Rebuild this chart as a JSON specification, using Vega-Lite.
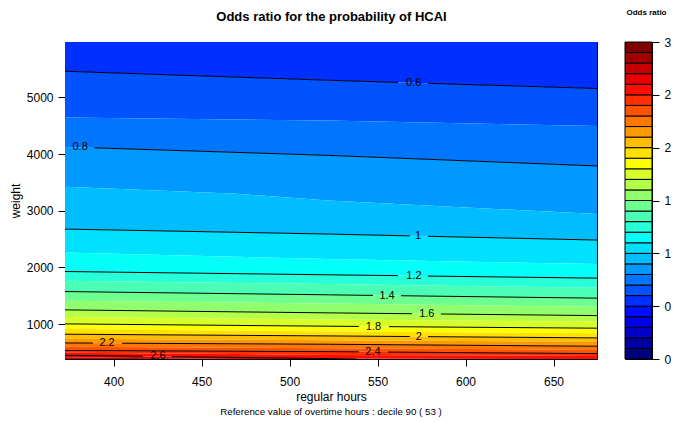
{
  "$schema": "https://vega.github.io/schema/vega-lite/v6.json",
  "padding": {"left": 8, "top": 8, "right": 2, "bottom": 4},
  "config": {
    "font": "Liberation Sans",
    "view": {"stroke": "black", "strokeWidth": 1},
    "axis": {"grid": false, "domain": false, "tickColor": "black", "tickSize": 7, "labelColor": "black", "titleColor": "black", "labelFontSize": 12, "titleFontSize": 12, "titleFontWeight": "normal", "labelFont": "Liberation Sans", "titleFont": "Liberation Sans"},
    "title": {"color": "black", "font": "Liberation Sans"}
  },
  "datasets": {
    "bands": [
      {"v": 0.55, "x": 372, "lo": 5459, "hi": 5980}, {"v": 0.55, "x": 470, "lo": 5355, "hi": 5980}, {"v": 0.55, "x": 522, "lo": 5300, "hi": 5980}, {"v": 0.55, "x": 675, "lo": 5154, "hi": 5980},
      {"v": 0.65, "x": 372, "lo": 4642, "hi": 5459}, {"v": 0.65, "x": 470, "lo": 4607, "hi": 5355}, {"v": 0.65, "x": 522, "lo": 4589, "hi": 5300}, {"v": 0.65, "x": 675, "lo": 4495, "hi": 5154},
      {"v": 0.75, "x": 372, "lo": 4125, "hi": 4642}, {"v": 0.75, "x": 470, "lo": 4028, "hi": 4607}, {"v": 0.75, "x": 522, "lo": 3976, "hi": 4589}, {"v": 0.75, "x": 675, "lo": 3789, "hi": 4495},
      {"v": 0.85, "x": 372, "lo": 3424, "hi": 4125}, {"v": 0.85, "x": 470, "lo": 3300, "hi": 4028}, {"v": 0.85, "x": 522, "lo": 3180, "hi": 3976}, {"v": 0.85, "x": 675, "lo": 2942, "hi": 3789},
      {"v": 0.95, "x": 372, "lo": 2677, "hi": 3424}, {"v": 0.95, "x": 470, "lo": 2620, "hi": 3300}, {"v": 0.95, "x": 522, "lo": 2589, "hi": 3180}, {"v": 0.95, "x": 675, "lo": 2483, "hi": 2942},
      {"v": 1.05, "x": 372, "lo": 2264, "hi": 2677}, {"v": 1.05, "x": 470, "lo": 2188, "hi": 2620}, {"v": 1.05, "x": 522, "lo": 2148, "hi": 2589}, {"v": 1.05, "x": 675, "lo": 2060, "hi": 2483},
      {"v": 1.15, "x": 372, "lo": 1929, "hi": 2264}, {"v": 1.15, "x": 470, "lo": 1891, "hi": 2188}, {"v": 1.15, "x": 522, "lo": 1871, "hi": 2148}, {"v": 1.15, "x": 675, "lo": 1812, "hi": 2060},
      {"v": 1.25, "x": 372, "lo": 1765, "hi": 1929}, {"v": 1.25, "x": 470, "lo": 1727, "hi": 1891}, {"v": 1.25, "x": 522, "lo": 1707, "hi": 1871}, {"v": 1.25, "x": 675, "lo": 1641, "hi": 1812},
      {"v": 1.35, "x": 372, "lo": 1576, "hi": 1765}, {"v": 1.35, "x": 470, "lo": 1538, "hi": 1727}, {"v": 1.35, "x": 522, "lo": 1518, "hi": 1707}, {"v": 1.35, "x": 675, "lo": 1459, "hi": 1641},
      {"v": 1.45, "x": 372, "lo": 1412, "hi": 1576}, {"v": 1.45, "x": 470, "lo": 1381, "hi": 1538}, {"v": 1.45, "x": 522, "lo": 1364, "hi": 1518}, {"v": 1.45, "x": 675, "lo": 1306, "hi": 1459},
      {"v": 1.55, "x": 372, "lo": 1253, "hi": 1412}, {"v": 1.55, "x": 470, "lo": 1218, "hi": 1381}, {"v": 1.55, "x": 522, "lo": 1200, "hi": 1364}, {"v": 1.55, "x": 675, "lo": 1152, "hi": 1306},
      {"v": 1.65, "x": 372, "lo": 1129, "hi": 1253}, {"v": 1.65, "x": 470, "lo": 1098, "hi": 1218}, {"v": 1.65, "x": 522, "lo": 1082, "hi": 1200}, {"v": 1.65, "x": 675, "lo": 1046, "hi": 1152},
      {"v": 1.75, "x": 372, "lo": 1006, "hi": 1129}, {"v": 1.75, "x": 470, "lo": 979, "hi": 1098}, {"v": 1.75, "x": 522, "lo": 965, "hi": 1082}, {"v": 1.75, "x": 675, "lo": 930, "hi": 1046},
      {"v": 1.85, "x": 372, "lo": 918, "hi": 1006}, {"v": 1.85, "x": 470, "lo": 887, "hi": 979}, {"v": 1.85, "x": 522, "lo": 870, "hi": 965}, {"v": 1.85, "x": 675, "lo": 842, "hi": 930},
      {"v": 1.95, "x": 372, "lo": 824, "hi": 918}, {"v": 1.95, "x": 470, "lo": 804, "hi": 887}, {"v": 1.95, "x": 522, "lo": 794, "hi": 870}, {"v": 1.95, "x": 675, "lo": 759, "hi": 842},
      {"v": 2.05, "x": 372, "lo": 746, "hi": 824}, {"v": 2.05, "x": 470, "lo": 728, "hi": 804}, {"v": 2.05, "x": 522, "lo": 718, "hi": 794}, {"v": 2.05, "x": 675, "lo": 688, "hi": 759},
      {"v": 2.15, "x": 372, "lo": 670, "hi": 746}, {"v": 2.15, "x": 470, "lo": 655, "hi": 728}, {"v": 2.15, "x": 522, "lo": 647, "hi": 718}, {"v": 2.15, "x": 675, "lo": 612, "hi": 688},
      {"v": 2.25, "x": 372, "lo": 605, "hi": 670}, {"v": 2.25, "x": 470, "lo": 587, "hi": 655}, {"v": 2.25, "x": 522, "lo": 577, "hi": 647}, {"v": 2.25, "x": 675, "lo": 547, "hi": 612},
      {"v": 2.35, "x": 372, "lo": 538, "hi": 605}, {"v": 2.35, "x": 470, "lo": 524, "hi": 587}, {"v": 2.35, "x": 522, "lo": 517, "hi": 577}, {"v": 2.35, "x": 675, "lo": 482, "hi": 547},
      {"v": 2.45, "x": 372, "lo": 499, "hi": 538}, {"v": 2.45, "x": 470, "lo": 473, "hi": 524}, {"v": 2.45, "x": 522, "lo": 459, "hi": 517}, {"v": 2.45, "x": 675, "lo": 441, "hi": 482},
      {"v": 2.55, "x": 372, "lo": 453, "hi": 499}, {"v": 2.55, "x": 470, "lo": 415, "hi": 473}, {"v": 2.55, "x": 522, "lo": 394, "hi": 459}, {"v": 2.55, "x": 675, "lo": 385, "hi": 441},
      {"v": 2.65, "x": 372, "lo": 418, "hi": 453}, {"v": 2.65, "x": 470, "lo": 389, "hi": 415}, {"v": 2.65, "x": 522, "lo": 385, "hi": 394}, {"v": 2.65, "x": 675, "lo": 385, "hi": 385},
      {"v": 2.75, "x": 372, "lo": 380, "hi": 418}, {"v": 2.75, "x": 470, "lo": 380, "hi": 389}, {"v": 2.75, "x": 522, "lo": 380, "hi": 385}, {"v": 2.75, "x": 675, "lo": 380, "hi": 385}
    ],
    "lines": [
      {"seg": "0.6a", "x": 372, "w": 5459}, {"seg": "0.6a", "x": 470, "w": 5355}, {"seg": "0.6a", "x": 522, "w": 5300}, {"seg": "0.6a", "x": 561.6, "w": 5262},
      {"seg": "0.6b", "x": 578.7, "w": 5246}, {"seg": "0.6b", "x": 675, "w": 5154},
      {"seg": "0.8a", "x": 389.2, "w": 4108}, {"seg": "0.8a", "x": 470, "w": 4028}, {"seg": "0.8a", "x": 522, "w": 3976}, {"seg": "0.8a", "x": 675, "w": 3789},
      {"seg": "1.0a", "x": 372, "w": 2677}, {"seg": "1.0a", "x": 470, "w": 2620}, {"seg": "1.0a", "x": 522, "w": 2589}, {"seg": "1.0a", "x": 568.4, "w": 2557},
      {"seg": "1.0b", "x": 578.7, "w": 2550}, {"seg": "1.0b", "x": 675, "w": 2483},
      {"seg": "1.2a", "x": 372, "w": 1929}, {"seg": "1.2a", "x": 470, "w": 1891}, {"seg": "1.2a", "x": 522, "w": 1871}, {"seg": "1.2a", "x": 561.6, "w": 1856},
      {"seg": "1.2b", "x": 578.7, "w": 1849}, {"seg": "1.2b", "x": 675, "w": 1812},
      {"seg": "1.4a", "x": 372, "w": 1576}, {"seg": "1.4a", "x": 470, "w": 1538}, {"seg": "1.4a", "x": 522, "w": 1518}, {"seg": "1.4a", "x": 547.4, "w": 1508},
      {"seg": "1.4b", "x": 563.3, "w": 1502}, {"seg": "1.4b", "x": 675, "w": 1459},
      {"seg": "1.6a", "x": 372, "w": 1253}, {"seg": "1.6a", "x": 470, "w": 1218}, {"seg": "1.6a", "x": 522, "w": 1200}, {"seg": "1.6a", "x": 569.6, "w": 1185},
      {"seg": "1.6b", "x": 586, "w": 1180}, {"seg": "1.6b", "x": 675, "w": 1152},
      {"seg": "1.8a", "x": 372, "w": 1006}, {"seg": "1.8a", "x": 470, "w": 979}, {"seg": "1.8a", "x": 522, "w": 965}, {"seg": "1.8a", "x": 539.4, "w": 961},
      {"seg": "1.8b", "x": 556.5, "w": 957}, {"seg": "1.8b", "x": 675, "w": 930},
      {"seg": "2.0a", "x": 372, "w": 824}, {"seg": "2.0a", "x": 470, "w": 804}, {"seg": "2.0a", "x": 522, "w": 794}, {"seg": "2.0a", "x": 568.4, "w": 783},
      {"seg": "2.0b", "x": 578.7, "w": 781}, {"seg": "2.0b", "x": 675, "w": 759},
      {"seg": "2.2a", "x": 372, "w": 670}, {"seg": "2.2a", "x": 388.3, "w": 668},
      {"seg": "2.2b", "x": 404.8, "w": 665}, {"seg": "2.2b", "x": 470, "w": 655}, {"seg": "2.2b", "x": 522, "w": 647}, {"seg": "2.2b", "x": 675, "w": 612},
      {"seg": "2.4a", "x": 372, "w": 538}, {"seg": "2.4a", "x": 470, "w": 524}, {"seg": "2.4a", "x": 522, "w": 517}, {"seg": "2.4a", "x": 539.4, "w": 513},
      {"seg": "2.4b", "x": 555.9, "w": 509}, {"seg": "2.4b", "x": 675, "w": 482},
      {"seg": "2.6a", "x": 372, "w": 453}, {"seg": "2.6a", "x": 416.7, "w": 436},
      {"seg": "2.6b", "x": 433.2, "w": 429}, {"seg": "2.6b", "x": 470, "w": 415}, {"seg": "2.6b", "x": 522, "w": 394}, {"seg": "2.6b", "x": 538, "w": 386}
    ],
    "labels": [
      {"label": "0.6", "x": 570.5, "w": 5254},
      {"label": "0.8", "x": 381, "w": 4116},
      {"label": "1", "x": 573, "w": 2554},
      {"label": "1.2", "x": 570.7, "w": 1852},
      {"label": "1.4", "x": 555.4, "w": 1505},
      {"label": "1.6", "x": 578, "w": 1182},
      {"label": "1.8", "x": 547.7, "w": 959},
      {"label": "2", "x": 573.5, "w": 782},
      {"label": "2.2", "x": 396.3, "w": 666},
      {"label": "2.4", "x": 547.4, "w": 511},
      {"label": "2.6", "x": 425.2, "w": 432}
    ],
    "legend": [
      {"lo": 0.0, "hi": 0.1, "v": 0.05}, {"lo": 0.1, "hi": 0.2, "v": 0.15}, {"lo": 0.2, "hi": 0.3, "v": 0.25}, {"lo": 0.3, "hi": 0.4, "v": 0.35}, {"lo": 0.4, "hi": 0.5, "v": 0.45},
      {"lo": 0.5, "hi": 0.6, "v": 0.55}, {"lo": 0.6, "hi": 0.7, "v": 0.65}, {"lo": 0.7, "hi": 0.8, "v": 0.75}, {"lo": 0.8, "hi": 0.9, "v": 0.85}, {"lo": 0.9, "hi": 1.0, "v": 0.95},
      {"lo": 1.0, "hi": 1.1, "v": 1.05}, {"lo": 1.1, "hi": 1.2, "v": 1.15}, {"lo": 1.2, "hi": 1.3, "v": 1.25}, {"lo": 1.3, "hi": 1.4, "v": 1.35}, {"lo": 1.4, "hi": 1.5, "v": 1.45},
      {"lo": 1.5, "hi": 1.6, "v": 1.55}, {"lo": 1.6, "hi": 1.7, "v": 1.65}, {"lo": 1.7, "hi": 1.8, "v": 1.75}, {"lo": 1.8, "hi": 1.9, "v": 1.85}, {"lo": 1.9, "hi": 2.0, "v": 1.95},
      {"lo": 2.0, "hi": 2.1, "v": 2.05}, {"lo": 2.1, "hi": 2.2, "v": 2.15}, {"lo": 2.2, "hi": 2.3, "v": 2.25}, {"lo": 2.3, "hi": 2.4, "v": 2.35}, {"lo": 2.4, "hi": 2.5, "v": 2.45},
      {"lo": 2.5, "hi": 2.6, "v": 2.55}, {"lo": 2.6, "hi": 2.7, "v": 2.65}, {"lo": 2.7, "hi": 2.8, "v": 2.75}, {"lo": 2.8, "hi": 2.9, "v": 2.85}, {"lo": 2.9, "hi": 3.0, "v": 2.95}
    ]
  },
  "spacing": 28,
  "bounds": "flush",
  "resolve": {"scale": {"color": "shared"}},
  "hconcat": [
    {
      "width": 532,
      "height": 317,
      "title": {"text": "Reference value of overtime hours : decile 90 ( 53 )", "orient": "bottom", "fontSize": 9.75, "fontWeight": "normal", "offset": 5},
      "resolve": {"axis": {"x": "independent"}},
      "layer": [
        {
          "data": {"name": "bands"},
          "mark": {"type": "area", "clip": true},
          "encoding": {
            "x": {"field": "x", "type": "quantitative", "scale": {"domain": [372.4, 674.7], "nice": false, "zero": false},
              "axis": {"orient": "bottom", "title": "regular hours", "values": [400, 450, 500, 550, 600, 650], "labelPadding": 10, "titlePadding": 4}},
            "y": {"field": "lo", "type": "quantitative", "stack": null, "scale": {"domain": [387, 5974], "nice": false, "zero": false},
              "axis": {"title": "weight", "values": [1000, 2000, 3000, 4000, 5000], "format": "d", "labelPadding": 5, "titlePadding": 4}},
            "y2": {"field": "hi"},
            "color": {"field": "v", "type": "quantitative", "legend": null,
              "scale": {"type": "threshold",
                "domain": [0.1, 0.2, 0.3, 0.4, 0.5, 0.6, 0.7, 0.8, 0.9, 1.0, 1.1, 1.2, 1.3, 1.4, 1.5, 1.6, 1.7, 1.8, 1.9, 2.0, 2.1, 2.2, 2.3, 2.4, 2.5, 2.6, 2.7, 2.8, 2.9],
                "range": ["#00007F", "#0000A2", "#0000C6", "#0000E9", "#000DFF", "#0030FF", "#0053FF", "#0076FF", "#0099FF", "#00BDFF", "#00E0FF", "#04FFFB", "#27FFD8", "#4AFFB5", "#6EFF91", "#91FF6D", "#B4FF4A", "#D7FF27", "#FBFF04", "#FFE000", "#FFBD00", "#FF9900", "#FF7600", "#FF5300", "#FF3000", "#FF0D00", "#E90000", "#C60000", "#A30000", "#7F0000"]}},
            "detail": {"field": "v", "type": "nominal"}
          }
        },
        {
          "data": {"name": "lines"},
          "mark": {"type": "line", "color": "black", "strokeWidth": 1, "clip": true},
          "encoding": {
            "x": {"field": "x", "type": "quantitative",
              "axis": {"orient": "top", "title": "Odds ratio for the probability of HCAI", "labels": false, "ticks": false, "domain": false, "titleFontSize": 13, "titleFontWeight": "bold", "titlePadding": 19}},
            "y": {"field": "w", "type": "quantitative"},
            "detail": {"field": "seg", "type": "nominal"}
          }
        },
        {
          "data": {"name": "labels"},
          "mark": {"type": "text", "fontSize": 11, "color": "black", "clip": true, "baseline": "middle"},
          "encoding": {
            "x": {"field": "x", "type": "quantitative", "axis": null},
            "y": {"field": "w", "type": "quantitative"},
            "text": {"field": "label"}
          }
        }
      ]
    },
    {
      "width": 27,
      "height": 317,
      "title": {"text": "Odds ratio", "fontSize": 8, "fontWeight": "bold", "offset": 19, "dx": 8},
      "data": {"name": "legend"},
      "mark": {"type": "rect", "stroke": "black", "strokeWidth": 1},
      "encoding": {
        "x": {"datum": 0, "type": "quantitative", "scale": {"domain": [0, 1], "nice": false}, "axis": null},
        "x2": {"datum": 1},
        "y": {"field": "lo", "type": "quantitative", "scale": {"domain": [0, 3], "nice": false},
          "axis": {"orient": "right", "values": [0, 0.5, 1, 1.5, 2, 2.5, 3], "labelExpr": "floor(datum.value)", "labelPadding": 5, "title": null}},
        "y2": {"field": "hi"},
        "color": {"field": "v", "type": "quantitative", "legend": null,
          "scale": {"type": "threshold",
            "domain": [0.1, 0.2, 0.3, 0.4, 0.5, 0.6, 0.7, 0.8, 0.9, 1.0, 1.1, 1.2, 1.3, 1.4, 1.5, 1.6, 1.7, 1.8, 1.9, 2.0, 2.1, 2.2, 2.3, 2.4, 2.5, 2.6, 2.7, 2.8, 2.9],
            "range": ["#00007F", "#0000A2", "#0000C6", "#0000E9", "#000DFF", "#0030FF", "#0053FF", "#0076FF", "#0099FF", "#00BDFF", "#00E0FF", "#04FFFB", "#27FFD8", "#4AFFB5", "#6EFF91", "#91FF6D", "#B4FF4A", "#D7FF27", "#FBFF04", "#FFE000", "#FFBD00", "#FF9900", "#FF7600", "#FF5300", "#FF3000", "#FF0D00", "#E90000", "#C60000", "#A30000", "#7F0000"]}}
      }
    }
  ]
}
